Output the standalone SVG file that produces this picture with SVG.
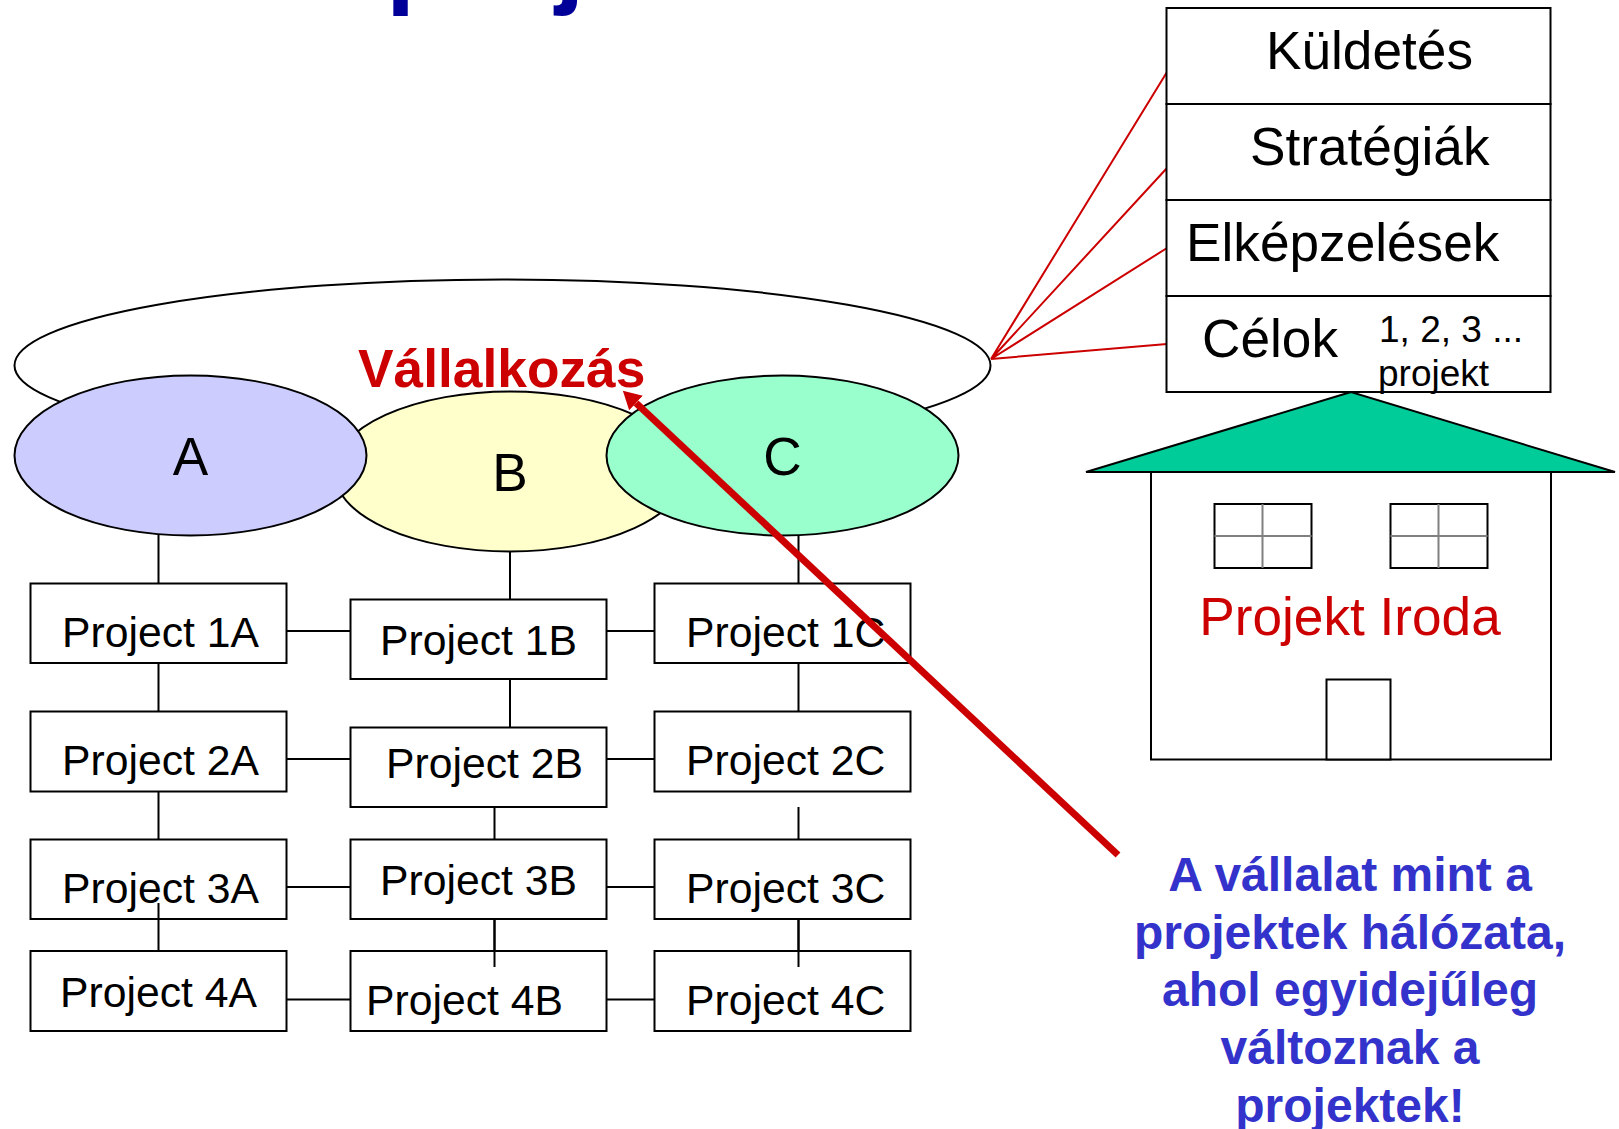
<svg xmlns="http://www.w3.org/2000/svg" width="1619" height="1129" viewBox="0 0 1619 1129">
<style>
text{font-family:"Liberation Sans",Arial,sans-serif;fill:#000}
.s{fill:#fff;stroke:#000;stroke-width:2}
.e{stroke:#000;stroke-width:2}
.p{font-size:42.7px}
.b{font-size:53.200px}
.l{stroke:#000;stroke-width:2;fill:none}
.r{stroke:#cc0000;stroke-width:2;fill:none}
.g{stroke:#808080;stroke-width:2;fill:none}
.blue{font-size:48px;font-weight:bold;fill:#3333cc;text-anchor:middle}
</style>
<defs>
<marker id="ah" markerUnits="userSpaceOnUse" markerWidth="20" markerHeight="20" refX="0" refY="10" orient="auto">
<path d="M0 0L18 10L0 20Z" fill="#cc0000"/>
</marker>
</defs>
<rect width="1619" height="1129" fill="#fff"/>
<text id="title" x="386" y="-6" style="font-size:105px;font-weight:bold;fill:#000099">proj</text>
<g id="vallalkozas"><ellipse class="s" cx="502.500" cy="365.500" rx="488" ry="86"/></g>
<g id="connectors">
<path class="l" d="M158.500 535V583M158.500 663V711M158.500 791V839M158.500 903V951M510 551V599M510 679V727M494.500 807V839M494.500 919V967M798.500 535V583M798.500 663V711M798.500 807V839M798.500 919V967M286 631H350M606 631H654M286 759H350M606 759H654M286 887H350M606 887H654M286 999.500H350M606 999.500H654"/>
<path class="r" d="M991 359L1167 72M991 359L1167 168M991 359L1167 248M991 359L1167 344"/>
</g>
<g id="node-b"><ellipse class="e" fill="#ffffcc" cx="510" cy="471.500" rx="176" ry="80"/><text x="510" y="491" class="b" text-anchor="middle">B</text></g>
<g id="node-a"><ellipse class="e" fill="#ccccff" cx="190.500" cy="455.500" rx="176" ry="80"/><text x="190.500" y="475" class="b" text-anchor="middle">A</text></g>
<g id="node-c"><ellipse class="e" fill="#99ffcc" cx="782.500" cy="455.500" rx="176" ry="80"/><text x="782.500" y="475" class="b" text-anchor="middle">C</text></g>
<text id="label-vallalkozas" x="358" y="387" style="font-size:53.300px;font-weight:bold;fill:#cc0000">Vállalkozás</text>
<g id="p1a"><rect class="s" x="30.500" y="583.500" width="256" height="79.500"/><text class="p" x="62" y="647">Project 1A</text></g>
<g id="p2a"><rect class="s" x="30.500" y="711.500" width="256" height="80"/><text class="p" x="62" y="775">Project 2A</text></g>
<g id="p3a"><rect class="s" x="30.500" y="839.500" width="256" height="79.500"/><text class="p" x="62" y="903">Project 3A</text></g>
<g id="p4a"><rect class="s" x="30.500" y="951" width="256" height="80"/><text class="p" x="60" y="1007">Project 4A</text></g>
<g id="p1b"><rect class="s" x="350.500" y="599.500" width="256" height="79.500"/><text class="p" x="380" y="655">Project 1B</text></g>
<g id="p2b"><rect class="s" x="350.500" y="727.500" width="256" height="79.500"/><text class="p" x="386" y="778">Project 2B</text></g>
<g id="p3b"><rect class="s" x="350.500" y="839.500" width="256" height="79.500"/><text class="p" x="380" y="895">Project 3B</text></g>
<g id="p4b"><rect class="s" x="350.500" y="951" width="256" height="80"/><text class="p" x="366" y="1015">Project 4B</text></g>
<g id="p1c"><rect class="s" x="654.500" y="583.500" width="256" height="79.500"/><text class="p" x="686" y="647">Project 1C</text></g>
<g id="p2c"><rect class="s" x="654.500" y="711.500" width="256" height="80"/><text class="p" x="686" y="775">Project 2C</text></g>
<g id="p3c"><rect class="s" x="654.500" y="839.500" width="256" height="79.500"/><text class="p" x="686" y="903">Project 3C</text></g>
<g id="p4c"><rect class="s" x="654.500" y="951" width="256" height="80"/><text class="p" x="686" y="1015">Project 4C</text></g>
<path class="l" d="M158.500 903V919M494.500 919V967M798.500 919V967"/>
<g id="kuldetes"><rect class="s" x="1166.500" y="8" width="384" height="96"/><text class="b" x="1266" y="69">Küldetés</text></g>
<g id="strategiak"><rect class="s" x="1166.500" y="104" width="384" height="96"/><text class="b" x="1250" y="165">Stratégiák</text></g>
<g id="elkepzelesek"><rect class="s" x="1166.500" y="200" width="384" height="96"/><text class="b" x="1186" y="261">Elképzelések</text></g>
<g id="celok"><rect class="s" x="1166.500" y="296" width="384" height="96"/><text class="b" x="1202" y="357">Célok</text><text x="1379" y="341.500" style="font-size:37px">1, 2, 3 ...</text><text x="1378" y="385.500" style="font-size:37px">projekt</text></g>
<g id="projekt-iroda">
<path class="l" d="M1151 472V759.500H1551V472"/>
<path class="e" fill="#00cc99" d="M1351 392L1086 472H1615Z"/>
<rect class="s" x="1214.500" y="504" width="97" height="64"/>
<path class="g" d="M1262.500 504V568M1214.500 536H1311.500"/>
<rect class="s" x="1390.500" y="504" width="97" height="64"/>
<path class="g" d="M1438.500 504V568M1390.500 536H1487.500"/>
<rect class="s" x="1326.500" y="679.500" width="64" height="80"/>
<text x="1350" y="635" text-anchor="middle" style="font-size:53.200px;fill:#cc0000">Projekt Iroda</text>
</g>
<path id="arrow" d="M1118 855L636 403" stroke="#cc0000" stroke-width="7" fill="none" marker-end="url(#ah)"/>
<text class="blue" x="1350" y="891">A vállalat mint a</text>
<text class="blue" x="1350" y="949">projektek hálózata,</text>
<text class="blue" x="1350" y="1006">ahol egyidejűleg</text>
<text class="blue" x="1350" y="1064">változnak a</text>
<text class="blue" x="1350" y="1122">projektek!</text>
</svg>
